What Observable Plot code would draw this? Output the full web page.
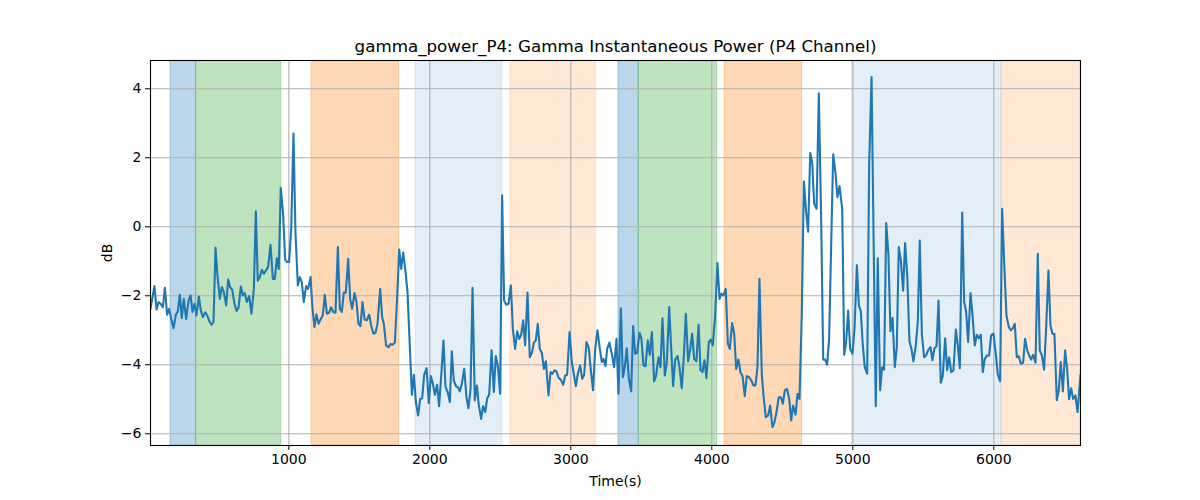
<!DOCTYPE html>
<html>
<head>
<meta charset="utf-8">
<script src="https://cdn.jsdelivr.net/npm/d3@7"></script>
<script src="https://cdn.jsdelivr.net/npm/@observablehq/plot@0.6"></script>
<style>
  html, body { margin: 0; padding: 0; background: #fff; }
</style>
</head>
<body>
<div id="chart"></div>
<script>
const title = "gamma_power_P4: Gamma Instantaneous Power (P4 Channel)";
const xLabel = "Time(s)";
const yLabel = "dB";

const times = [
19,47,62,76,90,107,121,137,151,166,182,199,213,227,241,255,272,289,303,317,331,345,362,376,390,407,421,437,452,466,480,494,511,525,539,556,570,584,598,615,629,643,660,674,688,702,719,735,752,766,780,794,809,823,837,853,870,887,901,915,929,943,960,974,988,1002,1017,1033,1047,1064,1078,1092,1106,1123,1137,1154,1168,1182,1196,1211,1227,1241,1255,1270,1286,1300,1315,1331,1348,1362,1376,1390,1404,1421,1435,1449,1466,1480,1494,1508,1523,1537,1553,1570,1584,1601,1615,1629,
1648,1662,1674,1690,1707,1721,1735,1752,1769,1783,1797,1811,1828,1842,1858,1873,1887,1901,1917,1932,1946,1960,1977,1993,2007,2022,2036,2052,2066,2081,2097,2111,2128,2142,2156,2170,2185,2199,2213,2227,2244,2260,2274,2289,2303,2319,2334,2348,2364,2378,2393,2407,2421,2438,2454,2468,2482,2499,2513,2527,2542,2558,2575,2589,2605,2620,2634,2648,2662,2676,2693,2709,2724,2738,2752,2766,2780,2795,2809,2823,2842,2856,2870,2884,2898,2915,2929,2946,2960,2974,2991,3007,3021,3036,3050,3066,3081,3095,3111,3128,3142,3158,3173,3189,3206,
3220,3232,3246,3258,3274,3293,3307,3324,3338,3355,3369,3383,3397,3412,3428,3442,3456,3471,3487,3501,3516,3530,3546,3560,3575,3591,3605,3622,3636,3650,3667,3681,3698,3712,3726,3740,3757,3771,3787,3802,3816,3832,3847,3861,3875,3891,3906,3920,3934,3948,3962,3979,3993,4007,4024,4040,4055,4069,4083,4099,4114,4128,4144,4159,4173,4189,4203,4218,4234,4248,4265,4279,4296,4310,4324,4338,4355,4369,4383,4400,4414,4430,4445,4459,4475,4490,4504,4518,4534,4549,4563,4577,4594,4608,4622,4638,4653,4669,4683,4698,4712,4726,4743,4759,4776,4790,4804,4818,4832,4846,4861,4877,4891,4906,
4925,4939,4953,4967,4981,4998,5012,5029,5043,5057,5071,5085,5102,5116,5133,5149,5163,5177,5194,5208,5222,5237,5253,5267,5282,5298,5312,5326,5341,5357,5371,5386,5402,5416,5430,5447,5461,5475,5490,5506,5520,5534,5551,5565,5579,5594,5608,5624,5638,5655,5669,5683,5698,5714,5731,5745,5759,5776,5790,5804,5818,5835,5849,5865,5880,5894,5908,5922,5936,5953,5967,5981,5998,6012,6029,6045,6059,6076,6090,6107,6121,6135,6149,6163,6177,6192,6208,6222,6237,6251,6265,6279,6296,6312,6326,6341,6357,6371,6388,6402,6416,6430,6447,6461,6475,6490,6506,6520,6534,6549,6563,6579,6594,6615
];

const dB = [
-2.38,-1.72,-2.40,-2.18,-2.23,-2.33,-1.77,-2.55,-2.38,-2.67,-2.94,-2.55,-2.45,-1.97,-2.65,-2.09,-2.67,-2.14,-1.99,-2.47,-2.23,-2.57,-2.02,-2.43,-2.62,-2.48,-2.57,-2.74,-2.84,-2.76,-0.61,-1.41,-2.09,-1.75,-1.89,-2.28,-1.53,-1.75,-1.82,-2.23,-2.44,-2.35,-1.73,-1.99,-1.92,-2.18,-2.01,-2.52,-1.80,0.45,-1.56,-1.46,-1.25,-1.36,-1.27,-1.17,-0.52,-1.51,-1.51,-0.91,-1.22,1.13,0.33,-0.95,-1.02,-1.02,-0.06,2.70,-0.15,-1.70,-1.46,-1.60,-2.18,-1.72,-1.80,-1.46,-2.38,-2.91,-2.54,-2.81,-2.67,-2.57,-1.97,-2.52,-2.49,-2.33,-2.47,-2.49,-0.59,-2.38,-2.47,-1.91,-1.91,-0.93,-2.09,-2.38,-1.92,-2.18,-2.81,-2.88,-2.18,-2.69,-2.71,-2.55,-2.86,-3.10,-3.07,-2.81,
-1.80,-2.62,-2.81,-3.44,-3.49,-3.40,-3.42,-3.36,-1.99,-0.66,-1.22,-0.75,-1.31,-1.91,-3.44,-4.87,-4.29,-5.08,-5.47,-4.99,-4.97,-4.29,-4.10,-5.11,-4.33,-4.55,-4.87,-4.58,-5.20,-4.31,-3.30,-4.63,-4.81,-5.08,-3.61,-4.45,-4.62,-4.65,-4.77,-4.55,-4.12,-4.94,-5.26,-4.70,-1.77,-5.03,-4.60,-5.18,-5.57,-5.20,-5.37,-4.97,-4.87,-3.58,-4.79,-3.75,-4.02,-4.84,0.91,-2.14,-2.26,-2.23,-1.70,-2.96,-3.54,-3.03,-3.25,-3.13,-2.71,-3.44,-1.91,-3.78,-3.65,-3.36,-3.29,-2.81,-3.54,-3.66,-4.12,-3.90,-4.89,-4.21,-4.26,-4.16,-4.19,-4.39,-4.43,-4.58,-4.31,-4.29,-3.05,-3.92,-4.26,-4.62,-4.26,-4.02,-4.41,-4.29,-3.34,-3.52,-4.16,-4.74,-3.54,-3.00,-3.54,
-3.92,-3.83,-4.04,-3.54,-3.36,-3.73,-4.07,-3.25,-4.84,-2.36,-4.36,-4.07,-3.52,-4.41,-4.77,-2.88,-3.68,-3.65,-3.07,-3.25,-4.02,-4.04,-3.29,-3.71,-3.05,-4.48,-4.31,-3.78,-4.07,-2.65,-4.31,-3.92,-2.33,-3.54,-4.62,-3.85,-3.75,-4.07,-4.68,-3.73,-2.52,-3.90,-3.54,-3.10,-3.83,-3.90,-2.84,-4.16,-4.21,-3.87,-4.39,-3.34,-3.27,-3.44,-2.57,-1.05,-2.09,-1.94,-1.99,-1.80,-3.39,-3.54,-2.79,-3.10,-4.12,-3.85,-4.21,-4.33,-4.91,-4.33,-4.36,-4.45,-4.60,-4.60,-4.07,-1.51,-4.31,-4.99,-5.52,-5.47,-5.18,-5.81,-5.66,-5.37,-4.94,-4.94,-5.13,-4.74,-4.70,-4.99,-5.61,-5.18,-5.45,-4.84,-4.99,-2.57,1.31,0.43,-0.14,2.14,1.87,0.67,0.52,3.87,0.14,-3.85,-3.85,-4.00,-3.25,-0.64,2.10,1.58,0.86,1.18,
0.52,-3.71,-3.34,-2.43,-3.54,-3.68,-2.96,-1.12,-2.28,-2.45,-3.44,-4.07,-4.26,1.78,4.34,-0.83,-5.20,-0.91,-4.74,-4.07,-4.14,0.11,-0.83,-3.03,-2.64,-4.07,-3.49,-0.59,-0.98,-1.85,-0.47,-1.41,-3.32,-3.54,-3.90,-3.44,-2.76,-0.40,-3.13,-3.78,-3.73,-3.58,-3.49,-3.87,-3.52,-3.46,-2.14,-4.52,-4.33,-3.23,-4.16,-3.78,-4.21,-4.16,-2.98,-3.44,-4.10,0.41,-2.18,-2.47,-3.34,-1.92,-2.57,-3.44,-3.13,-3.23,-3.13,-4.21,-3.83,-3.73,-3.73,-3.15,-3.10,-3.61,-4.29,-4.48,0.52,-1.27,-2.57,-2.91,-3.00,-2.94,-2.81,-3.78,-3.75,-3.97,-3.94,-3.25,-3.58,-3.73,-3.85,-3.71,-3.94,-0.78,-3.58,-3.73,-4.14,-2.96,-1.27,-2.86,-3.10,-3.10,-5.03,-4.74,-3.92,-4.77,-3.58,-4.12,-5.00,-4.68,-4.99,-4.89,-5.37,-4.29
];

const spanStarts = [161, 343, 1161, 1899, 2572, 3338, 3482, 4090, 4995, 6057];
const spanEnds   = [343, 946, 1783, 2513, 3180, 3482, 4038, 4641, 6055, 6615];
const spanKinds  = ["blue", "green", "orange", "lightblue", "lightorange", "blue", "green", "orange", "lightblue", "lightorange"];

const xTicks = [1000, 2000, 3000, 4000, 5000, 6000];
const yTicks = [-6, -4, -2, 0, 2, 4];

const series = times.map((t, i) => ({t, v: dB[i]}));
const spans = spanStarts.map((s, i) => ({x1: s, x2: spanEnds[i], kind: spanKinds[i]}));

const spanColor = {blue: "#1f77b4", green: "#2ca02c", orange: "#ff7f0e", lightblue: "#1f77b4", lightorange: "#ff7f0e"};
const spanAlpha = {blue: 0.3, green: 0.3, orange: 0.3, lightblue: 0.12, lightorange: 0.17};

const fmt = d => d < 0 ? "\u2212" + Math.abs(d) : String(d);

const chart = Plot.plot({
  width: 1200,
  height: 500,
  marginLeft: 150,
  marginRight: 120,
  marginTop: 60,
  marginBottom: 55,
  style: {fontFamily: "'DejaVu Sans', sans-serif", fontSize: "14px", color: "black", background: "white"},
  x: {domain: [19, 6615]},
  y: {domain: [-6.34, 4.82]},
  marks: [
    Plot.barX(spans, {
      x1: "x1", x2: "x2",
      fill: d => spanColor[d.kind],
      fillOpacity: d => spanAlpha[d.kind],
      stroke: d => spanColor[d.kind],
      strokeOpacity: d => spanAlpha[d.kind],
      strokeWidth: 1,
      clip: true
    }),
    Plot.gridX(xTicks, {stroke: "#b0b0b0", strokeOpacity: 1, strokeWidth: 1.1}),
    Plot.gridY(yTicks, {stroke: "#b0b0b0", strokeOpacity: 1, strokeWidth: 1.1}),
    Plot.line(series, {x: "t", y: "v", stroke: "#1f77b4", strokeWidth: 2.1, clip: true}),
    Plot.frame({stroke: "black", strokeWidth: 1.1}),
    Plot.axisX(xTicks, {tickSize: 5, tickPadding: 4, label: null, fontSize: 14, tickFormat: fmt}),
    Plot.axisY(yTicks, {tickSize: 5, tickPadding: 4, label: null, fontSize: 14, tickFormat: fmt}),
    Plot.text([title], {frameAnchor: "top", dy: -14, lineAnchor: "middle", textAnchor: "middle", fontSize: 16.7, text: d => d, fill: "black"}),
    Plot.text([xLabel], {frameAnchor: "bottom", dy: 36, lineAnchor: "middle", textAnchor: "middle", fontSize: 14, text: d => d, fill: "black"}),
    Plot.text([yLabel], {frameAnchor: "left", dx: -43, rotate: -90, lineAnchor: "middle", textAnchor: "middle", fontSize: 14, text: d => d, fill: "black"})
  ]
});

document.getElementById("chart").appendChild(chart);
</script>
</body>
</html>
